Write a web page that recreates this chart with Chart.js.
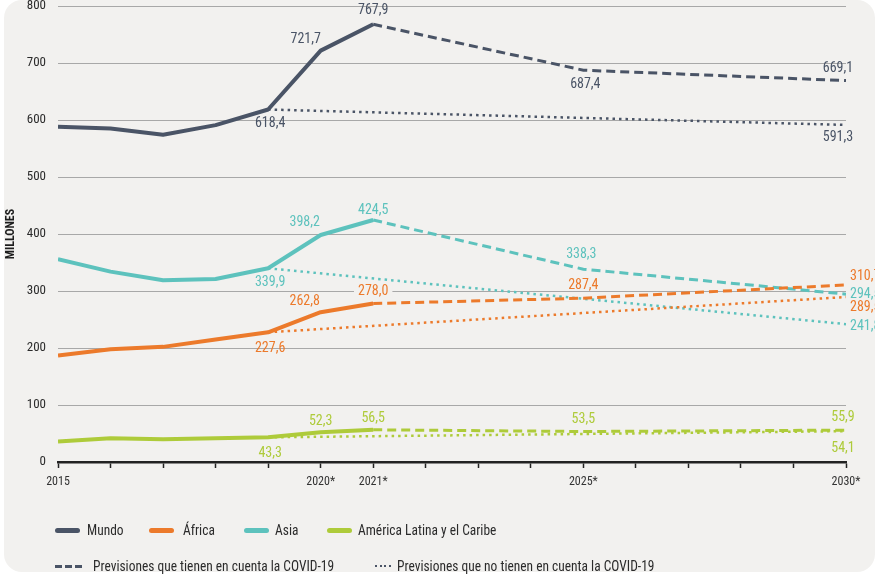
<!DOCTYPE html>
<html>
<head>
<meta charset="utf-8">
<script src="https://cdn.jsdelivr.net/npm/chart.js@4"></script>
<style>
  html, body { margin: 0; padding: 0; background: #fff; }
  body { width: 875px; height: 575px; position: relative; overflow: hidden;
         font-family: 'Liberation Sans Narrow', 'Roboto Condensed', Roboto, sans-serif; }
  .card { position: absolute; left: 4px; top: 0; width: 871px; height: 572px;
          background: #f2f1ef; border-radius: 18px; }
  .chart-box { position: absolute; left: 0; top: 0; width: 875px; height: 575px; }
  .legend { position: absolute; left: 0; height: 18px; font-size: 14px; color: #2b2b2b; }
  .legend span { position: absolute; top: 0; line-height: 18px; white-space: nowrap;
                 transform: scaleX(0.96); transform-origin: left center; }
  .legend i { position: absolute; display: block; }
</style>
</head>
<body>
<div class="card"></div>
<div class="chart-box"><canvas id="chart"></canvas></div>
<div id="legend-series" class="legend" style="top:521px"></div>
<div id="legend-styles" class="legend" style="top:557px"></div>

<script>
// years for each part of the series
const histYears = [2015, 2016, 2017, 2018, 2019, 2020, 2021];
const covidYears = [2021, 2025, 2030];
const noCovidYears = [2019, 2030];

const regions = ['Mundo', 'África', 'Asia', 'América Latina y el Caribe'];
const colors = ['#4a5466', '#ec7a2b', '#5dc2bd', '#aecb3a'];

// millions of people, observed up to 2021
const mundoHist = [588, 585, 574, 591, 618.4, 721.7, 767.9];
const africaHist = [187, 198, 202, 215, 227.6, 262.8, 278.0];
const asiaHist = [356, 334, 319, 321, 339.9, 398.2, 424.5];
const latamHist = [36, 41.5, 40, 41.5, 43.3, 52.3, 56.5];

// forecasts with COVID-19
const mundoCovid = [767.9, 687.4, 669.1];
const africaCovid = [278.0, 287.4, 310.7];
const asiaCovid = [424.5, 338.3, 294.5];
const latamCovid = [56.5, 53.5, 55.9];

// forecasts without COVID-19
const mundoNoCovid = [618.4, 591.3];
const africaNoCovid = [227.6, 289.5];
const asiaNoCovid = [339.9, 241.8];
const latamNoCovid = [43.3, 54.1];

const yTicks = [0, 100, 200, 300, 400, 500, 600, 700, 800];
const xTicks = [2015, 2016, 2017, 2018, 2019, 2020, 2021, 2022, 2023, 2024, 2025, 2026, 2027, 2028, 2029, 2030];
const xTickLabels = { 2015: '2015', 2020: '2020*', 2021: '2021*', 2025: '2025*', 2030: '2030*' };

const FONT = "'Liberation Sans Narrow', 'Roboto Condensed', Roboto, sans-serif";

const hist = [mundoHist, africaHist, asiaHist, latamHist];
const covid = [mundoCovid, africaCovid, asiaCovid, latamCovid];
const noCovid = [mundoNoCovid, africaNoCovid, asiaNoCovid, latamNoCovid];

function points(xs, ys) {
    return xs.map((x, i) => ({ x: x, y: ys[i] }));
}

const datasets = [];
regions.forEach((name, r) => {
    datasets.push({
        label: name, data: points(histYears, hist[r]),
        borderColor: colors[r], borderWidth: 4, borderJoinStyle: 'round', order: 1
    });
    datasets.push({
        label: name + ' (COVID-19)', data: points(covidYears, covid[r]),
        borderColor: colors[r], borderWidth: 3, borderDash: [9, 5], order: 2
    });
    datasets.push({
        label: name + ' (sin COVID-19)', data: points(noCovidYears, noCovid[r]),
        borderColor: colors[r], borderWidth: 2.5, borderDash: [2.5, 4], order: 3
    });
});

// where each value label sits relative to its point: region, kind (0 hist, 1 covid, 2 no covid), index
const valueLabels = [
    { r: 0, k: 0, i: 4, dx: 2, dy: 14 },
    { r: 0, k: 0, i: 5, dx: -15, dy: -11 },
    { r: 0, k: 0, i: 6, dx: 0, dy: -14 },
    { r: 0, k: 1, i: 1, dx: 2, dy: 14 },
    { r: 0, k: 1, i: 2, dx: -8, dy: -12 },
    { r: 0, k: 2, i: 1, dx: -8, dy: 13 },
    { r: 1, k: 0, i: 4, dx: 2, dy: 16 },
    { r: 1, k: 0, i: 5, dx: -16, dy: -11 },
    { r: 1, k: 0, i: 6, dx: 0, dy: -12, bg: true },
    { r: 1, k: 1, i: 1, dx: 0, dy: -13 },
    { r: 1, k: 1, i: 2, dx: 4, dy: -8, align: 'left' },
    { r: 1, k: 2, i: 1, dx: 4, dy: 11, align: 'left' },
    { r: 2, k: 0, i: 4, dx: 2, dy: 14 },
    { r: 2, k: 0, i: 5, dx: -16, dy: -13 },
    { r: 2, k: 0, i: 6, dx: 0, dy: -10 },
    { r: 2, k: 1, i: 1, dx: -2, dy: -15 },
    { r: 2, k: 1, i: 2, dx: 4, dy: 0, align: 'left' },
    { r: 2, k: 2, i: 1, dx: 4, dy: 2, align: 'left' },
    { r: 3, k: 0, i: 4, dx: 2, dy: 16 },
    { r: 3, k: 0, i: 5, dx: 0, dy: -11 },
    { r: 3, k: 0, i: 6, dx: 0, dy: -11 },
    { r: 3, k: 1, i: 1, dx: 0, dy: -12 },
    { r: 3, k: 1, i: 2, dx: -3, dy: -13 },
    { r: 3, k: 2, i: 1, dx: -3, dy: 17 }
];

const valueLabelPlugin = {
    id: 'valueLabels',
    afterDatasetsDraw(chart) {
        const ctx = chart.ctx;
        ctx.save();
        ctx.font = '14px ' + FONT;
        ctx.textBaseline = 'middle';
        valueLabels.forEach(l => {
            const di = l.r * 3 + l.k;
            const el = chart.getDatasetMeta(di).data[l.i];
            const value = chart.data.datasets[di].data[l.i].y;
            const text = value.toFixed(1).replace('.', ',');
            const x = el.x + l.dx;
            const y = el.y + l.dy;
            ctx.textAlign = l.align || 'center';
            if (l.bg) {
                const w = ctx.measureText(text).width + 8;
                ctx.fillStyle = '#f2f1ef';
                ctx.fillRect(x - w / 2, y - 8, w, 16);
            }
            ctx.fillStyle = colors[l.r];
            ctx.fillText(text, x, y);
        });
        ctx.restore();
    }
};

Chart.defaults.font.family = FONT;
Chart.defaults.color = '#2b2b2b';

new Chart(document.getElementById('chart'), {
    type: 'line',
    data: { datasets: datasets },
    options: {
        responsive: true,
        maintainAspectRatio: false,
        animation: false,
        layout: { padding: { top: 6, right: 29, left: 0, bottom: 0 } },
        elements: { point: { radius: 0 }, line: { tension: 0 } },
        plugins: { legend: { display: false }, tooltip: { enabled: false } },
        scales: {
            x: {
                type: 'linear', min: 2015, max: 2030,
                afterFit: s => { s.height = 113; s.paddingLeft = 0; s.paddingRight = 0; },
                afterBuildTicks: s => { s.ticks = xTicks.map(v => ({ value: v })); },
                ticks: {
                    autoSkip: false, maxRotation: 0, padding: 7,
                    font: { size: 12 }, color: '#333',
                    callback: v => xTickLabels[v] || ''
                },
                grid: { drawOnChartArea: false, drawTicks: true, tickLength: 6, tickColor: '#222', tickWidth: 1.5 },
                border: { color: '#222', width: 2.5 }
            },
            y: {
                min: 0, max: 800,
                afterFit: s => { s.width = 58; s.paddingTop = 0; s.paddingBottom = 0; },
                afterBuildTicks: s => { s.ticks = yTicks.map(v => ({ value: v })); },
                ticks: { padding: 12, font: { size: 13 }, color: '#2b2b2b' },
                grid: { color: ctx => ctx.tick && ctx.tick.value === 0 ? 'rgba(0,0,0,0)' : '#a8a8a8', lineWidth: 1, drawTicks: false },
                border: { display: false },
                title: { display: true, text: 'MILLONES', font: { size: 12, weight: 'bold' }, color: '#1e1e1e', padding: { top: 4, bottom: 0 } }
            }
        }
    },
    plugins: [valueLabelPlugin]
});

// legend rows
const seriesLegend = document.getElementById('legend-series');
const swatchX = [55, 149, 244, 327];
const textX = [87, 183, 275, 358];
regions.forEach((name, r) => {
    const sw = document.createElement('i');
    sw.style.cssText = `left:${swatchX[r]}px;top:7px;width:25px;height:5px;border-radius:3px;background:${colors[r]}`;
    seriesLegend.appendChild(sw);
    const t = document.createElement('span');
    t.style.left = textX[r] + 'px';
    t.textContent = name;
    seriesLegend.appendChild(t);
});

const styleLegend = document.getElementById('legend-styles');
styleLegend.innerHTML =
    '<i style="left:55px;top:8px;width:28px;height:3px;background:repeating-linear-gradient(90deg,#4a5466 0 7px,transparent 7px 10px)"></i>' +
    '<span style="left:93px">Previsiones que tienen en cuenta la COVID-19</span>' +
    '<i style="left:375px;top:8px;width:16px;height:2px;background:repeating-linear-gradient(90deg,#4a5466 0 2px,transparent 2px 4.5px)"></i>' +
    '<span style="left:397px">Previsiones que no tienen en cuenta la COVID-19</span>';
</script>
</body>
</html>
